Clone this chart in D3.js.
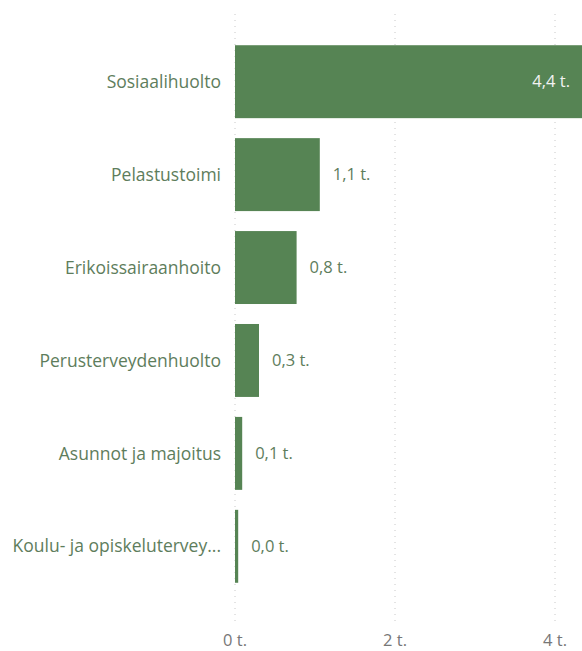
<!DOCTYPE html>
<html>
<head>
<meta charset="utf-8">
<script src="https://cdn.jsdelivr.net/npm/d3@7"></script>
<style>
  body { margin: 0; background: #fff; }
  text { font-family: "Open Sans", "Noto Sans", sans-serif; }
</style>
</head>
<body>
<div id="canvas"></div>
<script>
"use strict";

/* Data: categories and values (thousands) */
let categories = ["Sosiaalihuolto", "Pelastustoimi", "Erikoissairaanhoito",
  "Perusterveydenhuolto", "Asunnot ja majoitus", "Koulu- ja opiskelutervey..."];
let values = [4.4, 1.06, 0.77, 0.3, 0.09, 0.04];
let tickValues = [0, 2, 4];

/* Drawing config */
let svgWidth = 582;
let svgHeight = 651;
let x0 = 235;
let barColor = "#568454";
let textColor = "#5e7d5c";

let svg = d3.select("#canvas")
  .append("svg")
  .attr("width", svgWidth)
  .attr("height", svgHeight);

let xScale = d3.scaleLinear()
  .domain([0, 4])
  .range([x0, 555]);

let yScale = d3.scaleBand()
  .domain(categories)
  .range([35, 593])
  .paddingInner(0.215)
  .paddingOuter(0.11);

let fmt = v => v.toFixed(1).replace(".", ",") + " t.";

/* Dotted gridlines */
svg.selectAll("line.grid")
  .data(tickValues)
  .join("line")
  .attr("class", "grid")
  .attr("x1", d => xScale(d))
  .attr("x2", d => xScale(d))
  .attr("y1", 14)
  .attr("y2", 622)
  .attr("stroke", "#c8c8c8")
  .attr("stroke-width", 1)
  .attr("stroke-dasharray", "1,5");

/* Tick labels */
svg.selectAll("text.tick")
  .data(tickValues)
  .join("text")
  .attr("class", "tick")
  .attr("x", d => xScale(d))
  .attr("y", 646)
  .attr("text-anchor", "middle")
  .attr("font-size", 16.5)
  .attr("fill", "#777")
  .text(d => d + " t.");

/* Bars */
svg.selectAll("rect.bar")
  .data(values)
  .join("rect")
  .attr("class", "bar")
  .attr("x", xScale(0))
  .attr("y", (d, i) => yScale(categories[i]))
  .attr("width", d => Math.max(3, xScale(d) - xScale(0)))
  .attr("height", yScale.bandwidth())
  .attr("fill", barColor);

/* Category labels */
svg.selectAll("text.cat")
  .data(categories)
  .join("text")
  .attr("class", "cat")
  .attr("x", x0 - 14)
  .attr("y", d => yScale(d) + yScale.bandwidth() / 2)
  .attr("dy", "0.35em")
  .attr("text-anchor", "end")
  .attr("font-size", 17.5)
  .attr("fill", textColor)
  .text(d => d);

/* Value labels: inside the bar when it is long, else outside */
svg.selectAll("text.val")
  .data(values)
  .join("text")
  .attr("class", "val")
  .attr("x", d => xScale(d) > svgWidth ? svgWidth - 12 : Math.max(xScale(d), x0 + 3) + 13)
  .attr("y", (d, i) => yScale(categories[i]) + yScale.bandwidth() / 2)
  .attr("dy", "0.35em")
  .attr("text-anchor", d => xScale(d) > svgWidth ? "end" : "start")
  .attr("font-size", 16.5)
  .attr("fill", d => xScale(d) > svgWidth ? "#f2f2f2" : textColor)
  .text(d => fmt(d));
</script>
</body>
</html>
